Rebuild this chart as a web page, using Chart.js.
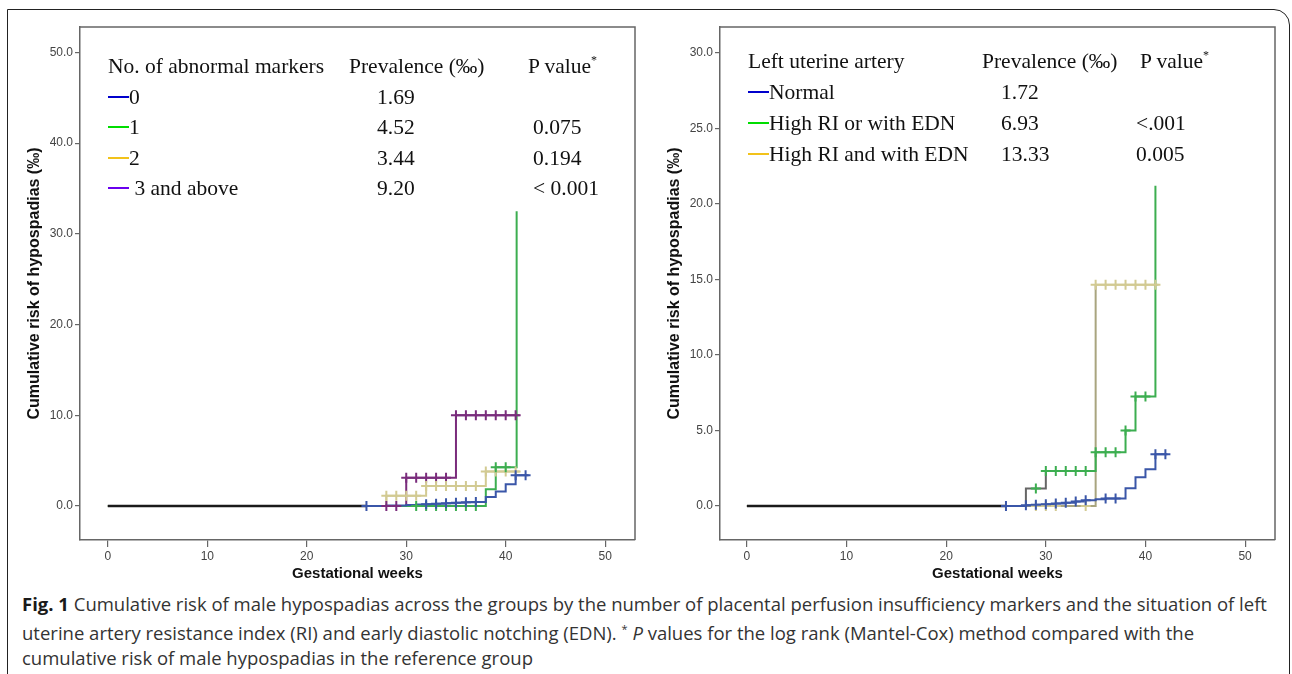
<!DOCTYPE html>
<html>
<head>
<meta charset="utf-8">
<script src="https://cdn.jsdelivr.net/npm/chart.js@4.4.0/dist/chart.umd.min.js"></script>
<style>
  body { margin: 0; background: #fff; width: 1292px; height: 674px; overflow: hidden; position: relative; }
  .frame { position: absolute; left: 7px; top: 9px; width: 1283px; height: 720px; border: 1.5px solid #222;
           border-top-right-radius: 16px; box-sizing: border-box; }
  .panel { position: absolute; top: 0; }
  .legend div { position: absolute; white-space: nowrap; font-family: "Liberation Serif", "Times New Roman", serif;
                font-size: 21.5px; line-height: 24px; color: #111; }
  .legend sup { font-size: 12px; vertical-align: 9px; line-height: 0; }
  .legend .swatch { display: inline-block; width: 21px; height: 1.6px; vertical-align: 6px; }
  .caption { position: absolute; left: 22px; top: 591px; font-family: "Open Sans", sans-serif; font-size: 18.5px;
             line-height: 25px; color: #333; white-space: nowrap; }
  .caption b { color: #1a1a1a; }
</style>
</head>
<body>
<div class="frame"></div>
<canvas id="left" class="panel" width="650" height="590" style="left:0"></canvas>
<canvas id="right" class="panel" width="650" height="590" style="left:640px"></canvas>
<div id="legendLeft" class="legend"></div>
<div id="legendRight" class="legend"></div>
<div class="caption">
  <b>Fig. 1</b> Cumulative risk of male hypospadias across the groups by the number of placental perfusion insufficiency markers and the situation of left<br>
  uterine artery resistance index (RI) and early diastolic notching (EDN). <sup style="font-size:11px">*</sup> <i>P</i> values for the log rank (Mantel-Cox) method compared with the<br>
  cumulative risk of male hypospadias in the reference group
</div>
<script>
// ---- data: left panel (number of abnormal markers) ----
var weekTicks = [0, 10, 20, 30, 40, 50];
var markerTicks = [0, 10, 20, 30, 40, 50];
var markerGroups = ["0", "1", "2", "3 and above"];
var markerPrevalence = ["1.69", "4.52", "3.44", "9.20"];
var markerPValues = ["", "0.075", "0.194", "< 0.001"];
// [week, cumulative risk ‰] step points
var markerSteps0 = [[0, 0], [26, 0], [28, 0.05], [30, 0.1], [31, 0.15], [32, 0.2], [33, 0.25], [34, 0.3],
                    [35, 0.35], [36, 0.4], [37, 0.45], [38, 1.0], [39, 1.6], [40, 2.4], [41, 3.4], [42.3, 3.4]];
var markerSteps1 = [[0, 0], [38, 1.84], [39, 4.27], [41.1, 32.5]];
var markerSteps2 = [[0, 0], [28, 1.14], [32, 2.2], [38, 3.79], [41.4, 3.79]];
var markerSteps3 = [[0, 0], [30, 3.1], [35, 10.0], [41.4, 10.0]];
// censored weeks
var markerCens0 = [26, 32, 33, 34, 35, 36, 37, 41, 42];
var markerCens1 = [31, 32, 33, 34, 35, 36, 37, 39, 40];
var markerCens2 = [28, 29, 30, 31, 32, 33, 34, 35, 36, 37, 38, 39, 40, 41];
var markerCens3 = [28, 29, 30, 31, 32, 33, 34, 35, 36, 37, 38, 39, 40, 41];

// ---- data: right panel (left uterine artery) ----
var arteryTicks = [0, 5, 10, 15, 20, 25, 30];
var arteryGroups = ["Normal", "High RI or with EDN", "High RI and with EDN"];
var arteryPrevalence = ["1.72", "6.93", "13.33"];
var arteryPValues = ["", "<.001", "0.005"];
var arterySteps0 = [[0, 0], [26, 0], [28, 0.05], [29, 0.08], [30, 0.12], [31, 0.16], [32, 0.22], [33, 0.3],
                    [34, 0.38], [35, 0.45], [36, 0.5], [38, 1.17], [39, 1.9], [40, 2.43], [41, 3.42], [42.2, 3.42]];
var arterySteps1 = [[0, 0], [28, 1.15], [30, 2.32], [35, 3.55], [38, 4.99], [39, 7.24], [41, 21.2]];
var arterySteps2 = [[0, 0], [35, 14.64], [41.3, 14.64]];
var arteryCens0 = [26, 28, 29, 30, 31, 32, 33, 34, 36, 37, 41, 42];
var arteryCens1 = [29, 30, 31, 32, 33, 34, 35, 36, 37, 38, 39, 40];
var arteryCens2 = [29, 30, 31, 34, 35, 36, 37, 38, 39, 40, 41];

var BLUE = "#3a56a8", GREEN = "#3cae50", TAN = "#d2ca92", PURPLE = "#7a2c7c";

function stepAt(steps, t) {
  var v = steps[0][1];
  steps.forEach(function (p) { if (p[0] <= t) v = p[1]; });
  return v;
}

function toXY(steps) {
  return steps.map(function (p) { return { x: p[0], y: p[1] }; });
}

var frameLines = {
  id: "frameLines",
  afterDraw: function (chart) {
    var a = chart.chartArea, ctx = chart.ctx;
    ctx.save();
    ctx.strokeStyle = "#666";
    ctx.lineWidth = 1.5;
    ctx.beginPath();
    ctx.moveTo(a.left, a.top);
    ctx.lineTo(a.right, a.top);
    ctx.lineTo(a.right, a.bottom);
    ctx.stroke();
    ctx.restore();
  }
};

function makePanel(id, series, yTicks, yMin, yMax, xMin) {
  var datasets = [];
  series.forEach(function (s) {
    datasets.push({
      data: s.cens.map(function (t) { return { x: t, y: stepAt(s.steps, t) }; }),
      showLine: false,
      pointStyle: "cross",
      pointRadius: 5,
      pointBorderWidth: 2,
      pointBorderColor: s.color,
      pointBackgroundColor: s.color
    });
  });
  series.forEach(function (s) {
    datasets.push({
      data: toXY(s.steps),
      stepped: true,
      borderColor: s.color,
      borderWidth: 2,
      pointRadius: 0,
      segment: s.segment || {}
    });
  });

  new Chart(document.getElementById(id).getContext("2d"), {
    type: "line",
    data: { datasets: datasets },
    options: {
      responsive: false,
      animation: false,
      devicePixelRatio: 1,
      layout: { padding: { left: 20, top: 27, right: 15, bottom: 5 } },
      plugins: { legend: { display: false }, tooltip: { enabled: false } },
      scales: {
        x: {
          type: "linear",
          min: xMin,
          max: 53,
          afterBuildTicks: function (s) { s.ticks = weekTicks.map(function (v) { return { value: v }; }); },
          afterFit: function (s) { s.height = 45; },
          grid: { drawOnChartArea: false, tickLength: 7, color: "#666", lineWidth: 1.2 },
          border: { color: "#666", width: 1.5 },
          ticks: { font: { family: "'Liberation Sans', Arial", size: 12 }, color: "#444",
                   padding: 2, maxRotation: 0 },
          title: { display: true, text: "Gestational weeks", color: "#111",
                   font: { family: "'Liberation Sans', Arial", size: 15, weight: "bold" }, padding: { top: 4, bottom: 2 } }
        },
        y: {
          type: "linear",
          min: yMin,
          max: yMax,
          afterBuildTicks: function (s) { s.ticks = yTicks.map(function (v) { return { value: v }; }); },
          afterFit: function (s) { s.width = 60; },
          grid: { drawOnChartArea: false, tickLength: 5, color: "#666", lineWidth: 1.2 },
          border: { color: "#666", width: 1.5 },
          ticks: { font: { family: "'Liberation Sans', Arial", size: 12 }, color: "#444",
                   padding: 2, callback: function (v) { return v.toFixed(1); } },
          title: { display: true, text: "Cumulative risk of hypospadias (‰)", color: "#111",
                   font: { family: "'Liberation Sans', Arial", size: 16, weight: "bold" }, padding: { top: 5, bottom: 4 } }
        }
      }
    },
    plugins: [frameLines]
  });
}

// overlap of all groups before the first event is drawn dark and a bit heavier
var darkStart = {
  borderColor: function (c) { return c.p1.parsed.x <= 26 ? "#1a1a1a" : undefined; },
  borderWidth: function (c) { return c.p1.parsed.x <= 26 ? 2.6 : undefined; }
};

makePanel("left", [
  { steps: markerSteps0, cens: markerCens0, color: BLUE, segment: darkStart },
  { steps: markerSteps1, cens: markerCens1, color: GREEN },
  { steps: markerSteps2, cens: markerCens2, color: TAN },
  { steps: markerSteps3, cens: markerCens3, color: PURPLE }
], markerTicks, -3.75, 52.8, -2.8);

makePanel("right", [
  { steps: arterySteps0, cens: arteryCens0, color: BLUE, segment: darkStart },
  { steps: arterySteps1, cens: arteryCens1, color: GREEN,
    segment: { borderColor: function (c) { return c.p0.parsed.x < 30 ? "#666" : undefined; } } },
  { steps: arterySteps2, cens: arteryCens2, color: TAN,
    segment: { borderColor: function (c) { return c.p0.parsed.x < 35 ? "#a9a57f" : undefined; } } }
], arteryTicks, -2.25, 31.7, -2.7);

// ---- legend tables (text) ----
function put(parent, html, x, yc) {
  var d = document.createElement("div");
  d.innerHTML = html;
  d.style.left = x + "px";
  d.style.top = (yc - 12) + "px";
  parent.appendChild(d);
}

function legendTable(el, title, groups, prev, pvals, swatches, cols, rows) {
  put(el, title, cols[0], rows[0]);
  put(el, "Prevalence (‰)", cols[1], rows[0]);
  put(el, "P value<sup>*</sup>", cols[3], rows[0]);
  groups.forEach(function (g, i) {
    var label = '<span class="swatch" style="background:' + swatches[i] + '"></span>' + g;
    put(el, label, cols[0], rows[i + 1]);
    put(el, prev[i], cols[2], rows[i + 1]);
    if (pvals[i]) put(el, pvals[i], cols[4], rows[i + 1]);
  });
}

legendTable(document.getElementById("legendLeft"), "No. of abnormal markers",
  markerGroups.map(function (g, i) { return i === 3 ? "&nbsp;" + g : g; }),
  markerPrevalence, markerPValues, ["#0000cc", "#00dd00", "#f2c21a", "#6a00ee"],
  [108, 349, 377, 528, 533], [66, 97, 127, 158, 188]);

legendTable(document.getElementById("legendRight"), "Left uterine artery",
  arteryGroups, arteryPrevalence, arteryPValues, ["#0000cc", "#00dd00", "#f2c21a"],
  [748, 982, 1001, 1140, 1136], [61, 92, 123, 154]);
</script>
</body>
</html>
